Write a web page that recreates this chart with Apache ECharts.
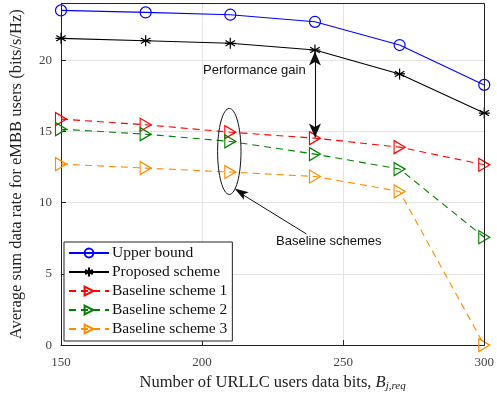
<!DOCTYPE html>
<html><head><meta charset="utf-8">
<script src="https://cdn.jsdelivr.net/npm/echarts@6/dist/echarts.min.js"></script>
<style>html,body{margin:0;padding:0;background:#fff}#c{width:497px;height:397px}</style>
</head><body><div id="c"></div>
<script>
const xValues = [150, 180, 210, 240, 270, 300];
const upperBound = [23.5, 23.36, 23.2, 22.7, 21.07, 18.27];
const proposed = [21.54, 21.37, 21.19, 20.72, 19.04, 16.29];
const baseline1 = [15.87, 15.47, 14.95, 14.53, 13.9, 12.66];
const baseline2 = [15.16, 14.81, 14.3, 13.41, 12.36, 7.57];
const baseline3 = [12.71, 12.43, 12.15, 11.84, 10.79, 0];
const seriesNames = ['Upper bound', 'Proposed scheme', 'Baseline scheme 1', 'Baseline scheme 2', 'Baseline scheme 3'];
const xTicks = [150, 200, 250, 300];
const yTicks = [0, 5, 10, 15, 20];

const serif = '"Liberation Serif", "DejaVu Serif", serif';
const sans = '"Liberation Sans", Arial, sans-serif';
const starPath = 'path://M0,-10L0,10M-8.66,-5L8.66,5M-8.66,5L8.66,-5M-10,0L10,0';
const triPath = 'path://M0,0L17.32,10L0,20Z';

function pairs(arr){ return xValues.map((x,i)=>[x, arr[i]]); }

function mk(name, data, color, symbol, size, dashed){
  return {
    name, type:'line', data: pairs(data), color,
    symbol, symbolSize: size, showSymbol:true,
    lineStyle:{color, width:1.1, type: dashed ? [7,5] : 'solid'},
    itemStyle:{color: symbol === starPath ? color : 'rgba(0,0,0,0)', borderColor: color, borderWidth: 1.2},
    emphasis:{disabled:true}, animation:false, z: 3
  };
}

const chart = echarts.init(document.getElementById('c'), null, {renderer:'canvas'});
const option = {
  animation:false,
  grid:{left:53.3, right:9.6, top:3.3, bottom:51.3, show:false},
  xAxis:{
    type:'value', min:150, max:300, interval:50,
    name:'{t|Number of URLLC users data bits, }{b|B}{s|j,req}',
    nameLocation:'middle', nameGap:25,
    nameTextStyle:{rich:{
      t:{fontFamily:serif, fontSize:16.5, color:'#222'},
      b:{fontFamily:serif, fontSize:16.5, fontStyle:'italic', color:'#222'},
      s:{fontFamily:serif, fontSize:11, fontStyle:'italic', color:'#222', padding:[8,0,0,0]}
    }},
    axisLine:{show:true, onZero:false, lineStyle:{color:'#222', width:1}},
    axisTick:{show:true, inside:true, length:5, lineStyle:{color:'#222'}},
    axisLabel:{fontFamily:serif, fontSize:13, color:'#444', margin:11, hideOverlap:false,
      alignMinLabel:'center', alignMaxLabel:'center'},
    splitLine:{show:true, lineStyle:{color:'#e4e4e4', width:1}}
  },
  yAxis:{
    type:'value', min:0, max:24, interval:5,
    name:'Average sum data rate for eMBB users (bits/s/Hz)',
    nameLocation:'middle', nameGap:36,
    nameTextStyle:{fontFamily:serif, fontSize:16.5, color:'#222'},
    axisLine:{show:true, onZero:false, lineStyle:{color:'#222', width:1}},
    axisTick:{show:true, inside:true, length:5, lineStyle:{color:'#222'}},
    axisLabel:{fontFamily:serif, fontSize:13, color:'#444', margin:9,
      formatter: v => yTicks.includes(v) ? String(v) : ''},
    splitLine:{show:true, lineStyle:{color:'#e4e4e4', width:1}}
  },
  legend:{
    orient:'vertical', left:64, top:242, data:seriesNames,
    backgroundColor:'#fff', borderColor:'#222', borderWidth:1,
    padding:[3,5,4,4], itemGap:3, itemWidth:40, itemHeight:11,
    textStyle:{fontFamily:serif, fontSize:15.5, color:'#111', padding:[0,0,0,-2]},
    selectedMode:false
  },
  series:[
    mk(seriesNames[0], upperBound, '#0000ff', 'circle', 11, false),
    mk(seriesNames[1], proposed, '#000000', starPath, 11, false),
    mk(seriesNames[2], baseline1, '#ff0000', triPath, [11,13], true),
    mk(seriesNames[3], baseline2, '#008000', triPath, [11,13], true),
    mk(seriesNames[4], baseline3, '#ff8c00', triPath, [11,13], true)
  ]
};
option.series.push({type:'line', data:[], silent:true,
  markLine:{silent:true, symbol:'none', animation:false, label:{show:false},
    lineStyle:{color:'#222', type:'solid', width:1},
    data:[[{coord:[150,24]},{coord:[300,24]}],[{coord:[300,0]},{coord:[300,24]}]]}});
option.series.push({type:'line', data:[], silent:true,
  markLine:{silent:true, symbol:['arrow','arrow'], symbolSize:[9,14], animation:false, label:{show:false},
    lineStyle:{color:'#111', type:'solid', width:1.1},
    data:[[{coord:[240, proposed[3]-0.1]},{coord:[240, baseline1[3]+0.05]}]]}});
chart.setOption(option);

const p = (x,y) => chart.convertToPixel({gridIndex:0}, [x,y]);
const ec = p(210, 13.6);
const tip = p(211.5, 11.0);
const tail = p(237, 7.8);
chart.setOption({graphic:[
  {type:'ellipse', shape:{cx:ec[0]-1, cy:ec[1], rx:11.7, ry:43}, style:{fill:'none', stroke:'#111', lineWidth:1}, z:10},
  {type:'line', shape:{x1:tail[0], y1:tail[1], x2:tip[0]+3, y2:tip[1]+3}, style:{stroke:'#111', lineWidth:1}, z:10},
  {type:'polygon', shape:{points:(()=>{
      const dx = tail[0]-tip[0], dy = tail[1]-tip[1], L = Math.hypot(dx,dy);
      const ux=dx/L, uy=dy/L, len=14, w=4.5;
      const bx = tip[0]+ux*len, by = tip[1]+uy*len;
      return [[tip[0],tip[1]],[bx - uy*w, by + ux*w],[bx+ux*(-3), by+uy*(-3)],[bx + uy*w, by - ux*w]];
    })()}, style:{fill:'#111'}, z:10},
  {type:'text', left:203, top:64, style:{text:'Performance gain', font:'13px '+sans, fill:'#111'}, z:10},
  {type:'text', left:276, top:235, style:{text:'Baseline schemes', font:'13px '+sans, fill:'#111'}, z:10}
]});
</script></body></html>
